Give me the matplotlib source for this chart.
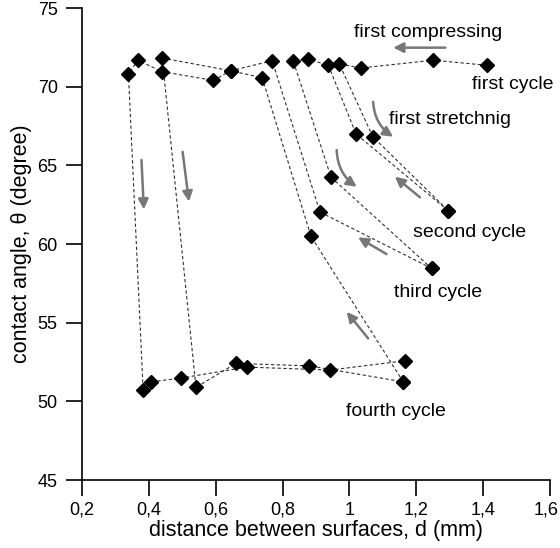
import matplotlib
matplotlib.use("Agg")
import matplotlib.pyplot as plt
from matplotlib.transforms import ScaledTranslation

plt.rcParams['font.family'] = ['Liberation Sans', 'DejaVu Sans']

# cycle data (distance d in mm, contact angle in degree)
c1_d = [1.411, 1.251, 1.035, 0.970, 1.070, 1.296]
c1_t = [71.36, 71.68, 71.19, 71.44, 66.82, 62.11]

c2_d = [1.296, 1.020, 0.937, 0.877, 0.832, 0.945, 1.246]
c2_t = [62.11, 66.99, 71.36, 71.74, 71.63, 64.24, 58.45]

c3_d = [1.246, 0.912, 0.769, 0.645, 0.440, 0.541, 0.660, 0.880, 1.161]
c3_t = [58.45, 62.03, 71.65, 71.01, 71.82, 50.89, 52.41, 52.26, 51.24]

c4_d = [1.161, 0.885, 0.739, 0.645, 0.593, 0.440, 0.367, 0.339, 0.383, 0.406, 0.496, 0.693, 0.942, 1.166]
c4_t = [51.24, 60.49, 70.57, 71.01, 70.40, 70.95, 71.68, 70.80, 50.70, 51.24, 51.48, 52.18, 51.99, 52.58]

x_ticks = [0.2, 0.4, 0.6, 0.8, 1.0, 1.2, 1.4, 1.6]
x_labels = ["0,2", "0,4", "0,6", "0,8", "1", "1,2", "1,4", "1,6"]
y_ticks = [45, 50, 55, 60, 65, 70, 75]

fig = plt.figure(figsize=(5.6, 5.48), dpi=100)
ax = fig.add_axes([0.1464, 0.124, 0.8357, 0.8614])

for d, t in [(c1_d, c1_t), (c2_d, c2_t), (c3_d, c3_t), (c4_d, c4_t)]:
    ax.plot(d, t, linestyle=(0, (3, 2.2)), color='#303030', linewidth=0.8, zorder=2)
    ax.plot(d, t, linestyle='none', marker='D', markersize=7, color='black', zorder=3)

ax.set_xlim(0.2, 1.6)
ax.set_ylim(45, 75)
ax.set_xticks(x_ticks)
ax.set_xticklabels(x_labels)
ax.set_yticks(y_ticks)
for s in ['top', 'right']:
    ax.spines[s].set_visible(False)
for s in ['left', 'bottom']:
    ax.spines[s].set_linewidth(1.2)
ax.tick_params(direction='out', length=11.5, width=1.2, labelsize=13, color='black')
ax.tick_params(axis='y', pad=6)
ax.tick_params(axis='x', pad=4)
ax.set_xlabel("distance between surfaces, d (mm)", fontsize=15.5, labelpad=1)
ax.set_ylabel("contact angle, θ (degree)", fontsize=15.5, labelpad=4)

# keep the last tick label inside the canvas
last = ax.get_xticklabels()[-1]
last.set_transform(last.get_transform() + ScaledTranslation(-4 / 100, 0, fig.dpi_scale_trans))

gray = '#777777'
arrows = [
    ((1.287, 72.48), (1.131, 72.48), 0.0),
    ((1.071, 69.04), (1.131, 66.82), 0.25),
    ((0.962, 65.97), (1.022, 63.64), 0.25),
    ((1.211, 62.97), (1.136, 64.28), 0.0),
    ((1.111, 59.36), (1.026, 60.42), 0.0),
    ((1.056, 54.0), (0.992, 55.69), 0.0),
    ((0.378, 65.34), (0.385, 62.2), 0.0),
    ((0.501, 65.86), (0.520, 62.7), 0.0),
]
for start, end, rad in arrows:
    ax.annotate("", xy=end, xytext=start,
                arrowprops=dict(arrowstyle='-|>,head_length=0.6,head_width=0.3',
                                color=gray, lw=1.8,
                                connectionstyle=f'arc3,rad={rad}',
                                shrinkA=0, shrinkB=0))

fs = 14
labels = [
    ("first compressing", 1.234, 73.16),
    ("first cycle", 1.49, 69.85),
    ("first stretchnig", 1.30, 67.63),
    ("second cycle", 1.358, 60.44),
    ("third cycle", 1.266, 56.63),
    ("fourth cycle", 1.139, 49.06),
]
for txt, x, y in labels:
    ax.text(x, y, txt, fontsize=fs, ha='center', va='baseline', clip_on=False)

fig.savefig("out.png", dpi=100)
